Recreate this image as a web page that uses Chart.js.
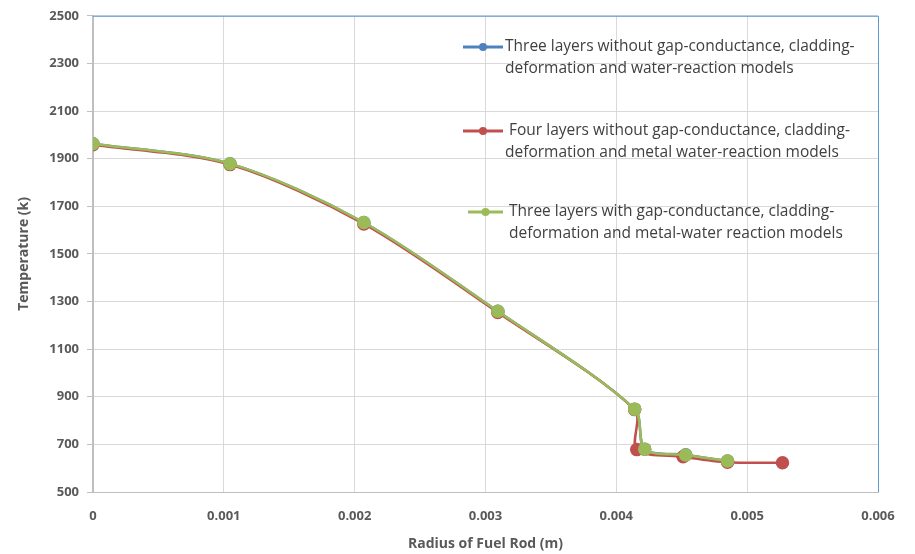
<!DOCTYPE html>
<html>
<head>
<meta charset="utf-8">
<script src="https://cdn.jsdelivr.net/npm/chart.js@4/dist/chart.umd.min.js"></script>
<style>
  body { margin: 0; background: #fff; }
  #wrap { width: 915px; height: 554px; }
</style>
</head>
<body>
<div id="wrap"><canvas id="grafica" width="915" height="554"></canvas></div>
<script>
// radios (m) y temperaturas (K)
const radioTresSin = [0, 0.001047, 0.00207, 0.003094, 0.00414, 0.004217, 0.00453, 0.00485];
const tempTresSin = [1963, 1879, 1632, 1259, 848, 680, 656, 630];

const radioCuatroSin = [0, 0.001047, 0.00207, 0.003094, 0.00414, 0.004156, 0.00451, 0.00485, 0.00527];
const tempCuatroSin = [1958, 1875, 1626, 1254, 846, 678, 648, 625, 623];

const radioTresCon = [0, 0.001047, 0.00207, 0.003094, 0.00414, 0.004217, 0.00453, 0.00485];
const tempTresCon = [1963, 1879, 1632, 1259, 848, 680, 655, 630];

const etiquetas = [
  ['Three layers without gap-conductance, cladding-', 'deformation and water-reaction models'],
  [' Four layers without gap-conductance, cladding-', 'deformation and metal water-reaction models'],
  ['Three layers with gap-conductance, cladding-', 'deformation and metal-water reaction models']
];

const xTicks = [0, 0.001, 0.002, 0.003, 0.004, 0.005, 0.006];

function puntos(xs, ys) {
  return xs.map((x, i) => ({ x: x, y: ys[i] }));
}

const texto = '#595959';
const fuente = 'Open Sans, Liberation Sans, sans-serif';

// leyenda dentro del area del grafico, como en Excel
const leyendaPlugin = {
  id: 'leyendaInterna',
  afterDraw(chart) {
    const ctx = chart.ctx;
    const pos = [
      { x0: 463, x1: 503, y: 47, tx: 505 },
      { x0: 463, x1: 503, y: 131, tx: 505 },
      { x0: 468, x1: 503, y: 212, tx: 509 }
    ];
    ctx.save();
    chart.data.datasets.forEach((ds, i) => {
      const p = pos[i];
      ctx.strokeStyle = ds.borderColor;
      ctx.lineWidth = 3;
      ctx.beginPath();
      ctx.moveTo(p.x0, p.y);
      ctx.lineTo(p.x1, p.y);
      ctx.stroke();
      ctx.fillStyle = ds.borderColor;
      ctx.beginPath();
      ctx.arc((p.x0 + p.x1) / 2, p.y, 4, 0, Math.PI * 2);
      ctx.fill();
      ctx.fillStyle = '#404040';
      ctx.font = '15.5px ' + fuente;
      ctx.textBaseline = 'middle';
      ctx.textAlign = 'left';
      etiquetas[i].forEach((linea, j) => {
        ctx.fillText(linea, p.tx, p.y + j * 22);
      });
    });
    ctx.restore();
  }
};

// borde azul arriba y a la derecha del area de trazado
const bordePlugin = {
  id: 'bordeArea',
  beforeDatasetsDraw(chart) {
    const a = chart.chartArea;
    const ctx = chart.ctx;
    ctx.save();
    ctx.strokeStyle = '#5b9bd5';
    ctx.lineWidth = 1;
    ctx.beginPath();
    ctx.moveTo(a.left, a.top + 0.5);
    ctx.lineTo(a.right + 0.5, a.top + 0.5);
    ctx.lineTo(a.right + 0.5, a.bottom);
    ctx.stroke();
    ctx.restore();
  }
};

const ctx = document.getElementById('grafica').getContext('2d');
new Chart(ctx, {
  type: 'line',
  data: {
    datasets: [
      {
        label: etiquetas[0].join(' '),
        data: puntos(radioTresSin, tempTresSin),
        borderColor: '#4f81bd',
        backgroundColor: '#4f81bd',
        borderWidth: 2.5,
        pointRadius: 5.5,
        tension: 0.3,
        order: 2,
        fill: false
      },
      {
        label: etiquetas[1].join(' '),
        data: puntos(radioCuatroSin, tempCuatroSin),
        borderColor: '#c0504d',
        backgroundColor: '#c0504d',
        borderWidth: 2.5,
        pointRadius: 5.5,
        tension: 0.3,
        order: 1,
        fill: false
      },
      {
        label: etiquetas[2].join(' '),
        data: puntos(radioTresCon, tempTresCon),
        borderColor: '#9bbb59',
        backgroundColor: '#9bbb59',
        borderWidth: 2.5,
        pointRadius: 5.5,
        tension: 0.3,
        order: 0,
        fill: false
      }
    ]
  },
  options: {
    responsive: false,
    animation: false,
    layout: { padding: { left: 0, top: 15, right: 37, bottom: 0 } },
    plugins: {
      legend: { display: false },
      tooltip: { enabled: false }
    },
    scales: {
      x: {
        type: 'linear',
        min: 0,
        max: 0.006,
        afterBuildTicks: (scale) => { scale.ticks = xTicks.map(v => ({ value: v })); },
        afterFit: (scale) => { scale.height = 62; },
        ticks: {
          color: texto,
          font: { family: fuente, size: 13, weight: 'bold' },
          padding: 16,
          maxRotation: 0,
          callback: (v) => String(v)
        },
        grid: { color: '#d9d9d9', lineWidth: 1, drawTicks: false },
        border: { color: '#bfbfbf', width: 1 },
        title: {
          display: true,
          text: 'Radius of Fuel Rod (m)',
          color: texto,
          font: { family: fuente, size: 14, weight: 'bold' },
          padding: { top: 4, bottom: 2 }
        }
      },
      y: {
        min: 500,
        max: 2500,
        afterFit: (scale) => { scale.width = 93; },
        ticks: {
          stepSize: 200,
          color: texto,
          font: { family: fuente, size: 13, weight: 'bold' },
          padding: 8,
          callback: (v) => String(v)
        },
        grid: { color: '#d9d9d9', lineWidth: 1, tickLength: 6, tickColor: '#bfbfbf' },
        border: { color: '#bfbfbf', width: 2 },
        title: {
          display: true,
          text: 'Temperature (k)',
          color: texto,
          font: { family: fuente, size: 14, weight: 'bold' },
          padding: { top: 16, bottom: 4 }
        }
      }
    }
  },
  plugins: [bordePlugin, leyendaPlugin]
});
</script>
</body>
</html>
